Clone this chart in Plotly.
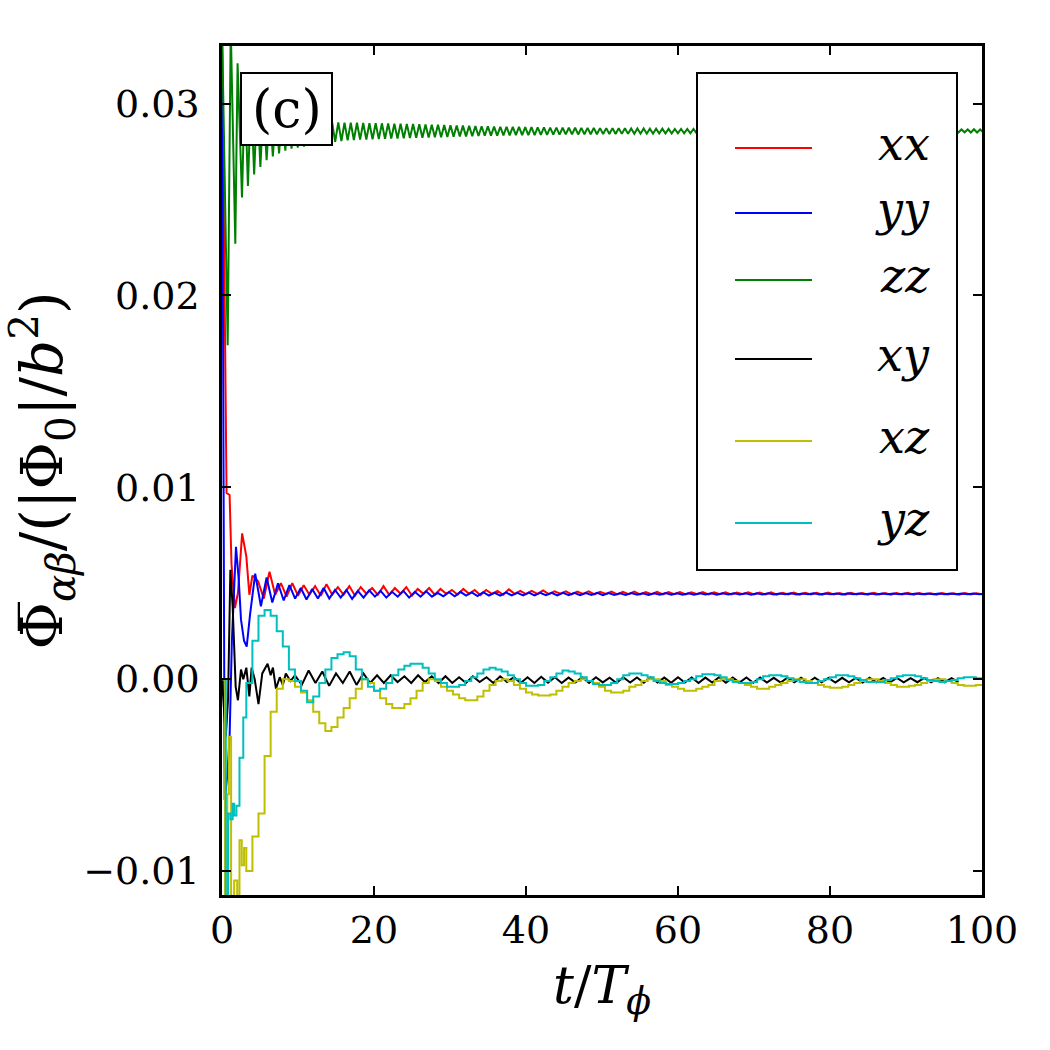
import plotly.graph_objects as go

# ---------------- data (values in units of 1e-4) ----------------
SCALE = 1e-4
SERIES = ["xx", "yy", "zz", "xy", "xz", "yz"]
COLORS = ["#ff0000", "#0000ff", "#008000", "#000000", "#bfbf00", "#00bfbf"]

# xx (red)
XX_T_EARLY = [0, 0.35, 0.6, 1.0, 1.25, 1.7, 2.1, 2.65, 3.2, 3.6]
XX_V_EARLY = [340, 200, 97, 96, 60, 37, 45, 76, 64, 44]
XX_T_START, XX_STEP = 4.0, 0.75
XX_V = [54, 51, 42, 56, 44, 50, 43, 50,
        43.5, 49, 44, 48.5, 43.5, 49.5, 44, 48, 44, 48.5, 43.5, 48, 44.5, 47.5,
        44, 48.5, 44, 47.5, 44.5, 48, 43.5, 47, 44.5, 47.5, 44, 47, 44.5,
        46.5, 44, 47, 44.5, 46.5, 43.8, 46.5, 44.5, 46, 44, 46.8, 44.5, 46, 44.3, 46, 44.5, 46.2, 44.3, 45.8, 44.5,
        45.8, 44.2, 45.6, 44.4, 45.8, 44.2, 45.5, 44.4, 45.6, 44.2, 45.5, 44.3, 45.6, 44.2, 45.4, 44.3, 45.5,
        44.2, 45.4, 44.3, 45.4, 44.2, 45.3, 44.3, 45.4, 44.2, 45.3, 44.3, 45.3, 44.2, 45.2, 44.3, 45.3, 44.2,
        45.1, 44.1, 45.2, 44.0, 45.0, 44.1, 45.1, 44.0, 45.0, 44.1, 45.0, 44.0, 45.1, 44.1, 44.9, 44.0, 45.0,
        44.1, 44.9, 44.0, 45.0, 44.1, 44.9, 44.0, 44.9, 44.1, 45.0, 44.0, 44.9, 44.1, 44.8, 44.0, 44.9, 44.1,
        44.8, 44.0, 44.9, 44.1, 44.8, 44.2]

# yy (blue)
YY_T_EARLY = [0, 0.35, 0.7, 1.0, 1.3, 1.84, 2.2, 2.5, 2.9, 3.25, 3.7]
YY_V_EARLY = [340, -63, -50, -30, 20, 69, 52, 31, 20, 17, 34]
YY_T_START, YY_STEP = 4.37, 0.75
YY_V = [55, 38, 53, 40, 50, 41, 49, 42,
        47.5, 41.5, 47, 42, 47.5, 42, 46.5, 42.5, 46.5, 41.8, 46, 42.5, 46.3, 43,
        46, 42.5, 45.5, 43, 46, 42.5, 45.5, 43, 45.8, 43, 45, 43.2, 45.3,
        43.2, 45.5, 43.5, 45.2, 43.3, 45.3, 43.6, 45, 43.5, 45.2, 43.6, 45, 43.7, 45.1, 43.6, 45, 43.8, 45, 43.7, 45,
        43.8, 45, 43.8, 44.9, 43.9, 45, 43.8, 44.9, 43.9, 44.8, 43.9, 44.9, 44, 44.8, 43.9, 44.8, 44,
        44.9, 44, 44.8, 44, 44.7, 44, 44.8, 44.1, 44.7, 44, 44.8, 44.1, 44.7, 44.1, 44.7, 44, 44.7,
        44.1, 44.7, 44.1, 44.6, 44.2, 44.7, 44.1, 44.6, 44.2, 44.7, 44.1, 44.6, 44.2, 44.6, 44.1, 44.7,
        44.2, 44.6, 44.2, 44.6, 44.1, 44.6, 44.2, 44.6, 44.2, 44.7, 44.2, 44.6, 44.2, 44.6, 44.2, 44.6,
        44.3, 44.6, 44.2, 44.6, 44.3, 44.6, 44.2, 44.6]

# zz (green): early points, then alternating peaks / troughs
ZZ_T_EARLY = [0, 0.75, 1.15, 1.75, 2.05, 2.63]
ZZ_V_EARLY = [340, 174, 340, 227, 321, 251]
ZZ_PEAK_START, ZZ_TROUGH_START, ZZ_PERIOD = 3.0, 3.41, 0.82
ZZ_PEAKS = [310, 306, 303, 300, 298, 297, 296, 295, 294, 293,
            292.5, 292, 291.5, 291, 290.5, 290.2, 290.1, 290.0, 290.0, 289.9,
            289.8, 289.8, 289.7, 289.6, 289.5, 289.5, 289.4, 289.3, 289.2, 289.1,
            289.0, 288.9, 288.8, 288.7, 288.6, 288.5, 288.4, 288.3, 288.2, 288.1,
            288.0, 287.9, 287.9, 287.8, 287.8, 287.7, 287.7, 287.6, 287.6, 287.5,
            287.5, 287.4, 287.4, 287.4, 287.3, 287.3, 287.3, 287.2, 287.2, 287.2,
            287.1, 287.1, 287.0, 287.0, 287.0, 286.9, 286.9, 286.9, 286.8, 286.8,
            286.8, 286.8, 286.8, 286.7, 286.7, 286.7, 286.7, 286.7, 286.7, 286.7,
            286.7, 286.6, 286.7, 286.6, 286.6, 286.7, 286.6, 286.6, 286.6, 286.6,
            286.6, 286.6, 286.6, 286.6, 286.5, 286.6, 286.6, 286.6, 286.5, 286.6,
            286.6, 286.5, 286.6, 286.6, 286.5, 286.6, 286.5, 286.6, 286.5, 286.6,
            286.5, 286.6, 286.5, 286.5, 286.6, 286.5, 286.5, 286.6, 286.5]
ZZ_TROUGHS = [257, 263, 267, 270.5, 272.5, 274, 275.5, 276.5, 277, 277.5,
              278, 278.3, 278.6, 279, 280, 280.5, 280.8, 281.0, 281.2, 281.3,
              281.4, 281.5, 281.6, 281.7, 281.8, 281.9, 282.0, 282.1, 282.2, 282.3,
              282.4, 282.5, 282.6, 282.7, 282.8, 282.9, 283.0, 283.1, 283.2, 283.3,
              283.3, 283.4, 283.4, 283.5, 283.5, 283.6, 283.6, 283.7, 283.7, 283.8,
              283.8, 283.9, 283.9, 283.9, 284.0, 284.0, 284.0, 284.1, 284.1, 284.1,
              284.2, 284.2, 284.2, 284.3, 284.3, 284.3, 284.4, 284.4, 284.4, 284.5,
              284.5, 284.5, 284.5, 284.6, 284.6, 284.6, 284.6, 284.6, 284.7, 284.7,
              284.7, 284.7, 284.7, 284.7, 284.8, 284.8, 284.8, 284.8, 284.8, 284.8,
              284.8, 284.8, 284.9, 284.9, 284.9, 284.9, 284.9, 284.9, 284.9, 284.9,
              284.9, 284.9, 284.9, 284.9, 284.9, 284.9, 285.0, 284.9, 284.9, 285.0,
              284.9, 284.9, 285.0, 284.9, 284.9, 285.0, 284.9, 284.9, 285.0]

# xy (black)
XY_T_EARLY = [0, 0.5, 0.8, 1.1, 1.4, 1.8, 2.1, 2.5, 2.8, 3.2, 3.6, 3.9, 4.3, 4.8,
              5.3, 6.0, 6.4, 6.7, 7.1, 7.6, 8.0, 8.4, 9.0]
XY_V_EARLY = [0, -30, -10, 57, 38, -4, -11, 5, 0, 6, -9, 6, 0, -13,
              3, 8, 2, 6, -5, 1, -3, 3, -1]
XY_T_START, XY_STEP = 9.6, 0.9
XY_V = [2, -3, 4.5, -2, 4, -3.5, 3, -2, 4, -3, 3, -2,
        2, -2, 2, -1.5, 1.5, -2, 2, -1.5, 1.5, -2, 1.5, -2, 1, -2, 1.5, -1.5, 1, -2, 1.5, -1.5, 1, -2,
        1, -2, 1.2, -1.8, 1, -2, 0.8, -1.8, 1, -2, 1, -1.7, 0.8, -2, 1, -1.8, 0.9, -1.9, 1, -1.8,
        0.8, -1.9, 1, -1.8, 0.9, -2, 0.8, -1.8, 1, -1.9, 0.8, -1.8, 0.9, -1.9, 0.8, -1.8, 0.7, -1.8,
        0.8, -1.7, 0.7, -1.8, 0.8, -1.7, 0.6, -1.8, 0.7, -1.7, 0.6, -1.8, 0.7, -1.6, 0.6, -1.7,
        0.6, -1.7, 0.5, -1.6, 0.6, -1.7, 0.5, -1.6, 0.5, -1.5]

# xz (yellow)
XZ_T_EARLY = [0, 0.4, 0.7, 0.9, 1.2, 1.6, 2.0, 2.3, 2.6, 2.9]
XZ_V_EARLY = [0, -118, -60, -30, -118, -105, -114, -84, -97, -88]
XZ_T_START, XZ_STEP = 3.2, 0.8
XZ_V = [-100, -82, -70, -40, -17, -5, 0, -1, -4, -7, -11, -17, -23, -27, -25, -20, -15, -10, -5, 0,
        -2, -6, -10, -13, -15, -15, -13, -10, -6, -2, 0, -1, -4, -6, -8, -10, -11, -11, -9, -6,
        -3, -1, 0, -1, -3, -5, -7, -8, -8.5, -8.5, -8, -6, -4, -2, -1, 0, -1, -2, -4, -6,
        -7, -7, -6, -4, -3, -1, 0, 0, -1, -3, -4, -5, -6, -6, -5, -4, -3, -1, 0, 0,
        -1, -2, -3, -4, -5, -5, -4, -3, -2, -1, 0, 0, -1, -2, -3, -4, -4.5, -4.5, -4, -3,
        -2, -1, 0, 0, -1, -2, -3, -4, -4, -3.5, -3, -2, -1, 0, 0, -1, -2, -3, -3.5, -3.5,
        -3, -3]

# yz (cyan)
YZ_T_EARLY = [0, 0.5, 0.8, 1.1, 1.4, 1.6, 1.9, 2.3, 2.8]
YZ_V_EARLY = [0, -125, -70, -73, -65, -71, -66, -41, -20]
YZ_T_START, YZ_STEP = 3.2, 0.8
YZ_V = [-2, 20, 33, 36, 33, 25, 17, 5, -1, -6, -12, -9, -2, 5, 11, 13, 14, 12, 5, 0,
        -4, -6, -5, -2, 2, 5, 7, 8, 8, 6, 3, 0, -2, -4, -4, -3, -1, 1, 3, 5,
        6, 5, 4, 2, 0, -2, -3.5, -3.5, -3, -1, 1, 3, 4.5, 4, 3, 1, -1, -2.5, -3, -3,
        -2, 0, 2, 3, 3, 2, 1, -1, -2, -2.5, -2.5, -2, -1, 0, 1.5, 2.5, 2.5, 2, 1, -0.5,
        -1.5, -2, -2, -1.5, 0, 1.5, 2, 2, 1.5, 0.5, -0.5, -1.5, -2, -2, -1, 0, 1, 2, 2, 1.5,
        0.5, -0.5, -1.5, -1.5, -1.5, -0.5, 0.5, 1.5, 2, 2, 1.5, 0.5, -0.5, -1, -1.5, -1, -0.5, 0.5, 1, 1,
        0.5, 0]

X_TICKS = [0, 20, 40, 60, 80, 100]
Y_TICKS = [-0.01, 0.0, 0.01, 0.02, 0.03]
X_RANGE = [0, 100]
Y_RANGE = [-0.01125, 0.0330]


def grid(start, step, n):
    return [round(start + step * i, 3) for i in range(n)]


def scaled(vals):
    return [v * SCALE for v in vals]


series_t = {}
series_v = {}
series_t["xx"] = XX_T_EARLY + grid(XX_T_START, XX_STEP, len(XX_V))
series_v["xx"] = scaled(XX_V_EARLY + XX_V)
series_t["yy"] = YY_T_EARLY + grid(YY_T_START, YY_STEP, len(YY_V))
series_v["yy"] = scaled(YY_V_EARLY + YY_V)

zz_t, zz_v = list(ZZ_T_EARLY), list(ZZ_V_EARLY)
pk_t = grid(ZZ_PEAK_START, ZZ_PERIOD, len(ZZ_PEAKS))
tr_t = grid(ZZ_TROUGH_START, ZZ_PERIOD, len(ZZ_TROUGHS))
for a, b, c, d in zip(pk_t, ZZ_PEAKS, tr_t, ZZ_TROUGHS):
    zz_t += [a, c]
    zz_v += [b, d]
series_t["zz"] = zz_t
series_v["zz"] = scaled(zz_v)

series_t["xy"] = XY_T_EARLY + grid(XY_T_START, XY_STEP, len(XY_V))
series_v["xy"] = scaled(XY_V_EARLY + XY_V)
series_t["xz"] = XZ_T_EARLY + grid(XZ_T_START, XZ_STEP, len(XZ_V))
series_v["xz"] = scaled(XZ_V_EARLY + XZ_V)
series_t["yz"] = YZ_T_EARLY + grid(YZ_T_START, YZ_STEP, len(YZ_V))
series_v["yz"] = scaled(YZ_V_EARLY + YZ_V)

SHAPES = {"xx": "linear", "yy": "linear", "zz": "linear", "xy": "linear", "xz": "hv", "yz": "hv"}

fig = go.Figure()
for name, col in zip(SERIES, COLORS):
    fig.add_trace(go.Scatter(x=series_t[name], y=series_v[name], mode="lines", name=name,
                             line=dict(color=col, width=2, shape=SHAPES[name]),
                             showlegend=False, cliponaxis=True))

FONT = "DejaVu Serif"

fig.update_layout(
    width=1050, height=1050,
    margin=dict(l=222, r=68, t=46, b=155),
    paper_bgcolor="white", plot_bgcolor="white",
    showlegend=False,
    font=dict(family=FONT, color="black"),
)
axis_common = dict(showline=True, linewidth=2.5, linecolor="black", mirror="allticks",
                   ticks="inside", ticklen=9, tickwidth=1.5, tickcolor="black",
                   showgrid=False, zeroline=False, tickfont=dict(family=FONT, size=38, color="black"))
fig.update_xaxes(range=X_RANGE, tickvals=X_TICKS, ticktext=[str(v) for v in X_TICKS],
                 title=dict(text="<i>t</i>/<i>T</i><sub><i>ϕ</i></sub>", font=dict(family=FONT, size=52),
                            standoff=16),
                 **axis_common)
fig.update_yaxes(range=Y_RANGE, tickvals=Y_TICKS, tickformat=".2f", ticklabelstandoff=12,
                 title=dict(text="Φ\u0305<sub><i>αβ</i></sub>/(|Φ<sub>0</sub>|/<i>b</i><sup>2</sup>)",
                            font=dict(family=FONT, size=58), standoff=14),
                 **axis_common)

# plot-area pixel geometry used for the legend / label boxes
PX_L, PX_R, PX_T, PX_B = 222, 982, 46, 895


def px(x):
    return (x - PX_L) / (PX_R - PX_L)


def py(y):
    return (PX_B - y) / (PX_B - PX_T)


shapes = []
annotations = []
# panel label box
shapes.append(dict(type="rect", xref="paper", yref="paper", x0=px(241), x1=px(332), y0=py(145), y1=py(73),
                   fillcolor="white", line=dict(color="black", width=2), layer="above"))
annotations.append(dict(text="(c)", xref="paper", yref="paper", x=px(286.5), y=py(109), showarrow=False,
                        font=dict(family=FONT, size=52, color="black"), xanchor="center", yanchor="middle"))
# legend box
shapes.append(dict(type="rect", xref="paper", yref="paper", x0=px(697), x1=px(957), y0=py(570), y1=py(73),
                   fillcolor="white", line=dict(color="black", width=2), layer="above"))
ROW_Y = [148, 213, 280, 359, 441, 523]
for name, col, ry in zip(SERIES, COLORS, ROW_Y):
    shapes.append(dict(type="line", xref="paper", yref="paper", x0=px(735), x1=px(812), y0=py(ry), y1=py(ry),
                       line=dict(color=col, width=2), layer="above"))
    annotations.append(dict(text="<i>%s</i>" % name, xref="paper", yref="paper", x=px(932), y=py(ry - 4),
                            showarrow=False, xanchor="right", yanchor="middle",
                            font=dict(family=FONT, size=46, color="black")))
fig.update_layout(shapes=shapes, annotations=annotations)

fig.write_html("out.html")
